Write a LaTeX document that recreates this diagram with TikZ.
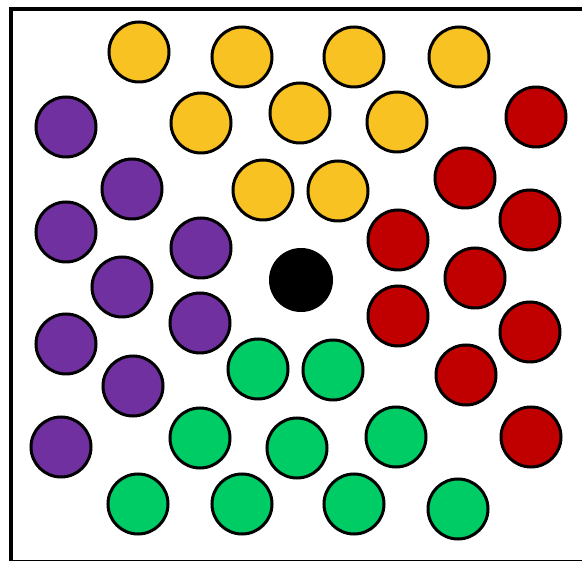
\documentclass[tikz,border=0pt]{standalone}
\definecolor{cyel}{HTML}{F8C223}
\definecolor{cpur}{HTML}{7030A0}
\definecolor{cred}{HTML}{C00000}
\definecolor{cgrn}{HTML}{00CC66}
\tikzset{
  dot/.style={circle, draw=black, line width=3pt, minimum size=60pt, inner sep=0pt},
  yel/.style={dot, fill=cyel},
  pur/.style={dot, fill=cpur},
  red/.style={dot, fill=cred},
  grn/.style={dot, fill=cgrn},
  hub/.style={circle, fill=black, draw=black, line width=1pt, minimum size=63pt, inner sep=0pt},
  frame/.style={draw=black, line width=3.5pt}
}
\begin{document}
\begin{tikzpicture}[x=1pt,y=-1pt]
\useasboundingbox (0,0) rectangle (582,561);
\clip (0,0) rectangle (582,561);
\fill[white] (0,0) rectangle (582,561);
\draw[frame] (11,9) rectangle (586,562);
% yellow
\node[yel] (y1) at (139,52) {};
\node[yel] (y2) at (242,57) {};
\node[yel] (y3) at (354,57) {};
\node[yel] (y4) at (459,57) {};
\node[yel] (y5) at (201,123) {};
\node[yel] (y6) at (300,113) {};
\node[yel] (y7) at (397,122) {};
\node[yel] (y8) at (263,190) {};
\node[yel] (y9) at (338,191) {};
% purple
\node[pur] (p1) at (66,127) {};
\node[pur] (p2) at (132,189) {};
\node[pur] (p3) at (66,232) {};
\node[pur] (p4) at (201,248) {};
\node[pur] (p5) at (122,287) {};
\node[pur] (p6) at (66,344) {};
\node[pur] (p7) at (200,323) {};
\node[pur] (p8) at (133,386) {};
\node[pur] (p9) at (61,447) {};
% red
\node[red] (r1) at (536,117) {};
\node[red] (r2) at (465,178) {};
\node[red] (r3) at (530,220) {};
\node[red] (r4) at (398,240) {};
\node[red] (r5) at (475,278) {};
\node[red] (r6) at (398,316) {};
\node[red] (r7) at (530,332) {};
\node[red] (r8) at (466,375) {};
\node[red] (r9) at (531,437) {};
% green
\node[grn] (g1) at (258,369) {};
\node[grn] (g2) at (333,370) {};
\node[grn] (g3) at (200,438) {};
\node[grn] (g4) at (297,448) {};
\node[grn] (g5) at (396,437) {};
\node[grn] (g6) at (138,504) {};
\node[grn] (g7) at (242,504) {};
\node[grn] (g8) at (354,504) {};
\node[grn] (g9) at (458,509) {};
% center
\node[hub] (c) at (301,280) {};
\end{tikzpicture}
\end{document}
